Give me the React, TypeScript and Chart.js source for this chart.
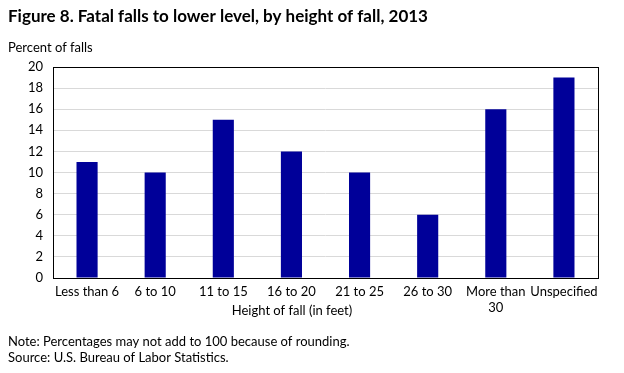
import React, { useEffect, useRef } from "react";
import { Chart, registerables } from "chart.js";

Chart.register(...registerables);

const categories: (string | string[])[] = [
  "Less than 6",
  "6 to 10",
  "11 to 15",
  "16 to 20",
  "21 to 25",
  "26 to 30",
  ["More than", "30"],
  "Unspecified",
];
const percentValues = [11, 10, 15, 12, 10, 6, 16, 19];
const titleText = "Figure 8. Fatal falls to lower level, by height of fall, 2013";
const yAxisLabel = "Percent of falls";
const xAxisLabel = "Height of fall (in feet)";
const noteLines = [
  "Note: Percentages may not add to 100 because of rounding.",
  "Source: U.S. Bureau of Labor Statistics.",
];

const FONT = "Lato, 'Open Sans', sans-serif";

const textPlugin = {
  id: "textPlugin",
  afterDraw(chart: any) {
    const ctx = chart.ctx;
    const area = chart.chartArea;
    ctx.save();
    // border around plot area
    ctx.strokeStyle = "#000";
    ctx.lineWidth = 1;
    ctx.strokeRect(
      Math.round(area.left) + 0.5,
      Math.round(area.top) + 0.5,
      Math.round(area.right - area.left),
      Math.round(area.bottom - area.top)
    );
    ctx.fillStyle = "#000";
    ctx.textBaseline = "middle";
    ctx.textAlign = "left";
    ctx.font = `bold 17px ${FONT}`;
    ctx.fillText(titleText, 8, 17);
    ctx.font = `13px ${FONT}`;
    ctx.fillText(yAxisLabel, 8, 48);
    ctx.textAlign = "center";
    ctx.fillText(xAxisLabel, 292, 311);
    ctx.textAlign = "left";
    ctx.fillText(noteLines[0], 8, 342);
    ctx.fillText(noteLines[1], 8, 358);
    ctx.restore();
  },
};

export default function App() {
  const ref = useRef<HTMLCanvasElement | null>(null);
  useEffect(() => {
    if (!ref.current) return;
    const chart = new Chart(ref.current, {
      type: "bar",
      data: {
        labels: categories,
        datasets: [
          {
            data: percentValues,
            backgroundColor: "#000099",
            borderWidth: 0,
            barPercentage: 0.31,
            categoryPercentage: 1,
          },
        ],
      },
      options: {
        animation: false,
        responsive: false,
        maintainAspectRatio: false,
        layout: { padding: { top: 67, right: 26, bottom: 0, left: 0 } },
        plugins: {
          legend: { display: false },
          title: { display: false },
          tooltip: { enabled: false },
        },
        scales: {
          x: {
            grid: { display: false, drawTicks: false },
            border: { display: false },
            ticks: {
              color: "#000",
              font: { family: FONT, size: 13 },
              padding: 6,
              maxRotation: 0,
              autoSkip: false,
            },
            afterFit(scale: any) {
              scale.height = 373 - 278;
            },
          },
          y: {
            min: 0,
            max: 20,
            grid: { color: "#d9d9d9", drawTicks: false, lineWidth: 1 },
            border: { display: false },
            ticks: {
              stepSize: 2,
              color: "#000",
              font: { family: FONT, size: 13 },
              padding: 10,
            },
            afterFit(scale: any) {
              scale.width = 53;
            },
          },
        },
      },
      plugins: [textPlugin],
    });
    return () => chart.destroy();
  }, []);
  return (
    <div style={{ position: "absolute", left: 0, top: 0, width: 624, height: 373, background: "#fff" }}>
      <canvas ref={ref} width={624} height={373} style={{ width: 624, height: 373 }} />
    </div>
  );
}
